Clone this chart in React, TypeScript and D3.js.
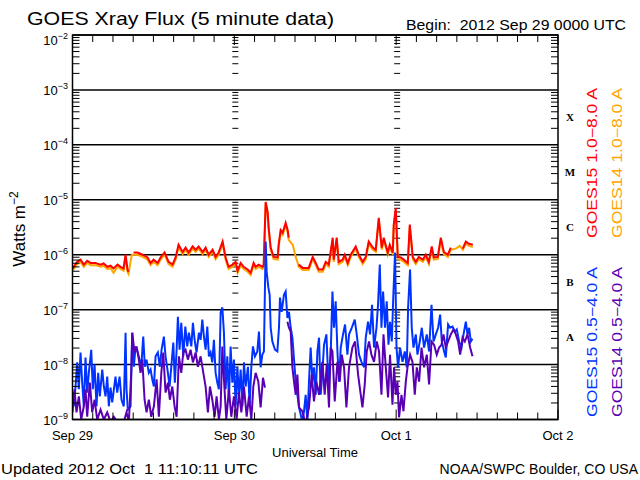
import React from 'react';
import * as d3 from 'd3';

const W = 640;
const H = 480;
const M = { left: 72.5, right: 558, top: 35, bottom: 419.5 };

const dayLabels = ['Sep 29', 'Sep 30', 'Oct 1', 'Oct 2'];
const yExponents = [-2, -3, -4, -5, -6, -7, -8, -9];
const flareClasses = ['X', 'M', 'C', 'B', 'A'];
const flareClassExp = [-4, -5, -6, -7, -8];

const titleText = 'GOES Xray Flux (5 minute data)';
const beginText = 'Begin:  2012 Sep 29 0000 UTC';
const updatedText = 'Updated 2012 Oct  1 11:10:11 UTC';
const creditText = 'NOAA/SWPC Boulder, CO USA';

// Long channel (1.0-8.0 A): hours since 2012 Sep 29 00:00 UTC, log10 flux (W m^-2)
const longHours = [
  0.0, 0.7, 1.19, 1.68, 2.18, 2.67, 3.41, 4.16, 4.6, 5.19, 5.64, 6.09, 6.68, 7.12, 7.57, 7.87, 8.16, 8.31, 8.6, 8.8,
  9.05, 9.65, 10.39, 11.13, 11.58, 12.02, 12.62, 13.06, 13.66, 14.25, 14.84, 15.29, 15.73, 16.33, 16.77, 17.22, 17.81,
  18.26, 18.7, 19.3, 19.74, 20.19, 20.78, 21.22, 21.67, 22.26, 22.71, 23.15, 23.75, 24.19, 24.49, 24.94, 25.38, 25.97,
  26.42, 26.86, 27.16, 27.61, 28.2, 28.35, 28.65, 28.94, 29.09, 29.39, 29.83, 30.43, 30.57, 30.87, 31.17, 31.61, 31.91,
  32.06, 32.66, 33.1, 33.4, 33.54, 34.14, 35.03, 35.62, 36.07, 36.51, 37.11, 37.55, 38.0, 38.59, 38.74, 39.18, 39.48,
  40.07, 40.37, 40.82, 41.26, 42.0, 42.45, 43.04, 43.49, 43.93, 44.53, 44.97, 45.42, 45.86, 46.16, 46.75, 47.05, 47.5,
  47.64, 47.94, 48.24, 48.68, 49.13, 49.72, 50.02, 50.46, 50.91, 51.35, 51.95, 52.39, 52.84, 53.28, 53.58, 54.17, 54.62,
  55.07, 55.66, 56.1, 56.84, 57.44, 57.88, 58.33, 58.78, 59.37,
];
const goes15Long = [
  -6.25, -6.13, -6.09, -6.18, -6.11, -6.15, -6.15, -6.18, -6.16, -6.22, -6.2, -6.25, -6.18, -6.22, -6.25, -6.0, -6.27, -6.31, null, null,
  -5.96, -5.96, -6.0, -6.05, -6.15, -6.09, -6.15, -6.05, -5.96, -6.13, -6.18, -6.05, -5.82, -5.95, -5.87, -5.96, -5.85,
  -5.91, -5.85, -5.95, -5.87, -6.0, -5.91, -6.04, -5.96, -5.76, -6.05, -6.22, -6.18, -6.13, -6.29, -6.15, -6.22, -6.27,
  -6.33, -6.15, -6.22, -6.18, -6.22, -6.18, -5.04, -5.22, -5.51, -5.87, -6.04, -6.05, -5.82, -5.55, -5.6, -5.42, -5.55,
  -5.69, null, null, null, -6.18, -6.24, -6.24, -6.04, -6.15, -6.27, -6.27, -6.13, -6.18, -5.69, -6.09, -5.69, -6.13,
  -6.09, -6.0, -6.15, -6.0, -5.85, -6.0, -6.13, -6.04, -5.76, -5.87, -5.91, -5.33, -5.87, -5.69, -5.96, -5.82, -5.96,
  -5.45, -5.15, -6.04, -6.05, -6.09, -6.15, -5.45, -6.04, -6.13, -6.04, -6.09, -6.0, -6.13, -5.85, -6.05, -6.04, -5.69,
  -5.95, -6.0, -5.87, null, null, -5.89, -5.76, -5.8, -5.82,
];
const goes14Long = [
  -6.29, -6.17, -6.13, -6.22, -6.15, -6.19, -6.19, -6.22, -6.2, -6.26, -6.24, -6.33, -6.22, -6.26, -6.29, -6.04, -6.31, -6.35, -6.13, -6.0,
  -6.0, -6.0, -6.04, -6.09, -6.19, -6.13, -6.19, -6.09, -6.0, -6.17, -6.22, -6.09, -5.86, -5.99, -5.91, -6.0, -5.89,
  -5.95, -5.89, -5.99, -5.91, -6.04, -5.95, -6.08, -6.0, -5.8, -6.09, -6.26, -6.22, -6.17, -6.33, -6.19, -6.26, -6.31,
  -6.37, -6.19, -6.26, -6.22, -6.26, -6.22, -5.06, -5.25, -5.54, -5.91, -6.08, -6.09, -5.86, -5.59, -5.64, -5.46, -5.59,
  -5.73, -5.82, -6.04, -6.15, -6.22, -6.28, -6.28, -6.08, -6.19, -6.31, -6.31, -6.17, -6.22, -5.73, -6.13, -5.73, -6.17,
  -6.13, -6.04, -6.19, -6.04, -5.89, -6.04, -6.17, -6.08, -5.8, -5.91, -5.95, -5.36, -5.91, -5.73, -6.0, -5.86, -6.0,
  -5.49, -5.2, -6.08, -6.09, -6.13, -6.19, -5.49, -6.08, -6.17, -6.08, -6.13, -6.04, -6.17, -5.89, -6.09, -6.08, -5.73,
  -5.99, -6.04, -5.91, -5.89, -5.84, -5.91, -5.8, -5.84, -5.86,
];

// Short channel (0.5-4.0 A), GOES-15
const short15Hours = [
  0.0, 0.19, 0.45, 0.7, 0.94, 1.19, 1.44, 1.68, 1.93, 2.18, 2.42, 2.78, 3.01, 3.27, 3.56, 3.81, 4.05, 4.41, 4.65, 4.9,
  5.15, 5.39, 5.64, 5.89, 6.38, 6.63, 6.98, 7.27, 7.61, 7.87, 8.01, 8.21, 8.61, 8.86, 9.1, 9.35, 9.69, 9.94, 10.2, 10.49,
  10.73, 10.98, 11.32, 11.58, 11.83, 12.07, 12.32, 12.66, 12.96, 13.21, 13.55, 13.8, 14.15, 14.4, 14.65, 14.95, 15.18,
  15.44, 15.63, 15.88, 16.13, 16.43, 16.73, 17.02, 17.26, 17.62, 17.86, 18.11, 18.4, 18.75, 19.0, 19.25, 19.49, 19.74,
  19.99, 20.23, 20.48, 20.73, 20.97, 21.22, 21.48, 21.71, 21.97, 22.22, 22.46, 22.71, 22.96, 23.2, 23.45, 23.7, 23.94,
  24.19, 24.45, 24.68, 24.94, 25.19, 25.43, 25.68, 26.02, 26.27, 26.52, 26.76, 27.06, 27.41, 27.65, 27.9, 28.15, 28.39,
  28.65, 28.79, 29.05, 29.24, 29.39, 29.64, 30.03, 30.38, 30.62, 30.77, 31.02, 31.36, 31.61, 31.87, 32.1, 32.36, 32.61,
  33.1, 33.59, 34.09, 34.33, 34.58, 34.83, 35.07, 35.32, 35.58, 35.81, 36.07, 36.32, 36.56, 36.81, 37.06, 37.3, 37.65,
  37.95, 38.29, 38.55, 38.78, 39.03, 39.29, 39.52, 39.78, 40.12, 40.42, 40.77, 41.01, 41.41, 41.86, 42.15, 42.49, 42.85,
  43.24, 43.49, 43.83, 44.13, 44.42, 44.72, 45.08, 45.31, 45.57, 45.82, 46.06, 46.35, 46.6, 46.86, 47.09, 47.35, 47.6,
  47.84, 48.05, 48.28, 48.58, 48.94, 49.28, 49.57, 49.77, 50.06, 50.31, 50.57, 50.91, 51.16, 51.5, 51.8, 52.14, 52.54,
  52.88, 53.24, 53.54, 53.88, 54.22, 54.52, 54.77, 55.11, 55.36, 55.7, 56.0, 56.36, 56.7, 56.99, 57.34, 57.69, 57.99,
  58.33, 58.58, 58.82, 59.07, 59.32,
];
const goes15Short = [
  -8.58, -8.76, -8.4, -7.96, -8.45, -7.78, -8.33, -8.76, -7.87, -8.51, -8.15, -7.73, -8.45, -8.0, -8.76, -8.15, -8.58, -8.09, -8.4, -8.58,
  -8.22, -8.76, -8.42, -8.69, -8.22, -8.51, -8.22, -8.64, -8.76, -7.42, -8.45, -8.82, -8.76, -7.42, -8.04, -7.67, -7.78, -7.91, -8.04, -7.49,
  -8.04, -7.91, -8.15, -8.09, -8.27, -8.4, -7.85, -7.78, -8.04, -7.73, -7.49, -7.85, -8.15, -8.4, -8.04, -7.6, -8.33,
  -7.73, -7.13, -7.73, -7.24, -7.85, -7.31, -7.67, -7.42, -7.67, -7.24, -7.55, -7.78, -7.42, -7.55, -7.18, -7.49, -7.73,
  -7.31, -7.85, -7.78, -7.96, -7.55, -8.15, -8.33, -8.45, -7.05, -6.96, -7.42, -8.45, -7.85, -8.64, -7.67, -8.33, -7.91,
  -8.76, -8.04, -8.58, -8.09, -8.76, -7.96, -8.4, -8.04, -8.76, -8.04, -7.67, -7.85, -7.76, -7.4, -8.05, -7.82, -7.76,
  -5.76, -6.31, -6.6, -6.73, -7.33, -7.58, -7.73, -7.76, -7.33, -6.78, -7.04, -6.73, -6.67, -7.15, -7.04, -7.33, -7.51,
  -8.31, -8.78, -9.04, -8.85, -8.55, -9.04, -8.31, -7.69, -8.31, -8.05, -8.55, -7.76, -7.51, -8.55, -8.13, -7.64, -7.45,
  -8.31, -7.82, -6.67, -7.33, -6.85, -7.76, -8.31, -7.69, -7.45, -7.27, -7.82, -7.45, -7.33, -7.18, -7.45, -7.82, -7.95,
  -8.05, -7.51, -7.22, -7.45, -6.91, -7.69, -7.33, -6.91, -6.18, -7.33, -6.67, -7.33, -6.85, -7.64, -7.22, -7.58, -6.67,
  -5.96, -7.69, -8.05, -7.69, -7.95, -7.76, -8.05, -6.96, -6.27, -7.33, -7.69, -7.45, -7.82, -7.58, -7.33, -7.69, -7.45,
  -7.76, -6.91, -7.58, -7.45, -7.33, -7.09, -7.58, -7.76, -7.87, -7.27, -7.33, -7.31, -7.4, -7.36, -7.58, -7.69, -7.45,
  -7.22, -7.45, -7.33, -7.58, -7.53,
];

// Short channel (0.5-4.0 A), GOES-14
const short14Hours = [
  0.0, 0.3, 0.59, 0.94, 1.29, 1.68, 1.93, 2.18, 2.57, 2.92, 3.27, 3.67, 4.16, 4.65, 5.15, 5.64, 6.13, 6.63, 7.61, 8.01,
  8.36, 8.71, 8.86, 9.2, 9.5, 9.84, 10.09, 10.35, 10.69, 10.98, 11.32, 11.68, 12.07, 12.47, 12.81, 13.17, 13.46, 13.8,
  14.15, 14.44, 14.8, 15.14, 15.44, 15.78, 16.13, 16.43, 16.77, 17.11, 17.51, 17.86, 18.26, 18.6, 19.0, 19.4, 19.74,
  20.08, 20.38, 20.73, 21.08, 21.37, 21.71, 21.97, 22.22, 22.46, 22.81, 23.2, 23.55, 23.94, 24.34, 24.68, 25.04, 25.43,
  25.83, 26.17, 26.52, 26.82, 27.16, 27.56, 27.9, 28.25, 28.54, 30.0, 31.87, 32.1, 32.36, 32.61, 32.85, 33.1, 33.35,
  33.59, 34.09, 34.58, 35.07, 35.47, 35.81, 36.17, 36.56, 37.06, 37.4, 37.7, 38.04, 38.29, 38.55, 38.89, 39.29, 39.63,
  39.93, 40.27, 40.62, 41.01, 41.51, 41.9, 42.35, 42.75, 43.0, 43.34, 43.64, 43.98, 44.33, 44.72, 45.12, 45.46, 45.82,
  46.12, 46.46, 46.8, 47.09, 47.45, 47.69, 47.94, 48.19, 48.43, 48.79, 49.08, 49.43, 49.68, 50.06, 50.42, 50.76, 51.06,
  51.4, 51.76, 52.14, 52.54, 52.88, 53.24, 53.62, 54.02, 54.37, 54.72, 55.02, 55.36, 55.7, 56.1, 56.5, 56.85, 57.19,
  57.49, 57.84, 58.18, 58.58, 58.97, 59.32,
];
const goes14Short = [
  -8.87, -8.45, -8.87, -8.58, -9.0, -8.76, -8.45, -8.95, -8.33, -8.87, -8.64, -9.0, -8.82, -9.0, -8.87, -9.04, -8.95, -9.04, -9.04, -8.87,
  -9.04, -8.15, -7.42, -7.78, -7.67, -7.91, -8.15, -7.91, -8.64, -8.87, -8.64, -8.95, -8.76, -8.27, -8.95, -8.15, -7.78, -8.51,
  -8.33, -8.64, -8.4, -8.76, -8.95, -7.85, -8.15, -7.78, -7.73, -7.91, -7.73, -7.96, -7.78, -8.04, -7.85, -8.15, -8.4,
  -8.87, -8.4, -8.64, -8.95, -8.58, -9.0, -8.76, -7.67, -8.27, -9.0, -8.45, -8.95, -8.58, -9.0, -8.51, -8.87, -8.4,
  -8.95, -8.58, -9.0, -8.4, -8.15, -8.31, -8.78, -8.24, -8.42, null, -7.22, -7.33, -7.4, -8.05, -8.31, -8.55, -8.18,
  -8.78, -8.85, -9.09, -8.78, -8.18, -8.67, -8.31, -8.55, -7.95, -8.55, -8.0, -8.78, -7.69, -7.76, -8.67, -7.95, -8.31,
  -7.82, -8.05, -8.78, -8.05, -7.69, -7.58, -8.18, -8.55, -8.78, -8.36, -7.76, -7.58, -7.82, -7.95, -7.58, -7.76, -8.55,
  -7.45, -8.05, -8.6, -7.82, -8.73, -8.05, -8.55, -8.31, -8.96, -8.55, -8.85, -8.31, -8.05, -7.82, -7.95, -8.55, -8.05,
  -8.31, -7.69, -8.05, -7.82, -8.36, -7.58, -7.64, -7.82, -7.69, -7.64, -7.45, -7.69, -7.58, -7.45, -7.36, -7.45, -7.58,
  -7.82, -7.51, -7.58, -7.45, -7.69, -7.85,
];

const legendItems = [
  { text: 'GOES15 1.0\u22128.0 A', color: '#ff0000', x: 597, y0: 238, y1: 88 },
  { text: 'GOES14 1.0\u22128.0 A', color: '#ffa500', x: 622, y0: 238, y1: 88 },
  { text: 'GOES15 0.5\u22124.0 A', color: '#0033ff', x: 597, y0: 417, y1: 267 },
  { text: 'GOES14 0.5\u22124.0 A', color: '#5a00b4', x: 622, y0: 417, y1: 267 },
];

const SANS = "'Liberation Sans', Arial, sans-serif";
const SERIF = "'Liberation Serif', 'DejaVu Serif', serif";

export default function App() {
  const x = d3.scaleLinear().domain([0, 72]).range([M.left, M.right]);
  const y = d3.scaleLog().domain([1e-9, 1e-2]).range([M.bottom, M.top]);

  const mk = (hours: number[], vals: (number | null)[]) => hours.map((h, i) => ({ h, v: vals[i] }));
  const line = d3
    .line<{ h: number; v: number | null }>()
    .defined((d) => d.v !== null && d.v !== undefined)
    .x((d) => x(d.h))
    .y((d) => y(Math.pow(10, d.v as number)));

  const minorVals: number[] = [];
  for (let e = -9; e <= -3; e++) for (let k = 2; k <= 9; k++) minorVals.push(k * Math.pow(10, e));

  const hourTicks = d3.range(0, 73, 3);
  const dayHours = [24, 48];

  return (
    <svg width={W} height={H} style={{ position: 'absolute', left: 0, top: 0, background: '#fff' }} fontFamily={SANS}>
      <rect x={0} y={0} width={W} height={H} fill="#fff" />
      <defs>
        <clipPath id="plotclip">
          <rect x={M.left} y={M.top} width={M.right - M.left} height={M.bottom - M.top} />
        </clipPath>
      </defs>

      {/* decade grid lines */}
      {yExponents.map((e) => (
        <line key={'g' + e} x1={M.left} x2={M.right} y1={y(Math.pow(10, e))} y2={y(Math.pow(10, e))} stroke="#000" strokeWidth={1.5} />
      ))}

      {/* day-boundary tick columns */}
      {dayHours.map((dh) =>
        minorVals.map((v, i) => (
          <line key={'dc' + dh + '-' + i} x1={x(dh) - 2} x2={x(dh) + 4} y1={y(v)} y2={y(v)} stroke="#000" strokeWidth={1} />
        ))
      )}

      {/* data */}
      <g clipPath="url(#plotclip)" fill="none" strokeWidth={2}>
        <path d={line(mk(longHours, goes14Long)) || ''} stroke="#ffa500" />
        <path d={line(mk(longHours, goes15Long)) || ''} stroke="#ff0000" />
        <path d={line(mk(short15Hours, goes15Short)) || ''} stroke="#0033ff" />
        <path d={line(mk(short14Hours, goes14Short)) || ''} stroke="#5a00b4" />
      </g>

      {/* frame */}
      <rect x={M.left} y={M.top} width={M.right - M.left} height={M.bottom - M.top} fill="none" stroke="#000" strokeWidth={1.5} />

      {/* y minor ticks left/right */}
      {minorVals.map((v, i) => (
        <g key={'ym' + i}>
          <line x1={M.left} x2={M.left + 7} y1={y(v)} y2={y(v)} stroke="#000" strokeWidth={1} />
          <line x1={M.right - 7} x2={M.right} y1={y(v)} y2={y(v)} stroke="#000" strokeWidth={1} />
        </g>
      ))}

      {/* x ticks */}
      {hourTicks.map((h) => {
        const len = h % 24 === 0 ? 10 : 7;
        return (
          <g key={'xt' + h}>
            <line x1={x(h)} x2={x(h)} y1={M.top} y2={M.top + len} stroke="#000" strokeWidth={1} />
            <line x1={x(h)} x2={x(h)} y1={M.bottom} y2={M.bottom - len} stroke="#000" strokeWidth={1} />
          </g>
        );
      })}

      {/* y labels */}
      {yExponents.map((e) => {
        const yy = y(Math.pow(10, e)) + (e === -2 ? 10 : 5);
        return (
          <text key={'yl' + e} x={68} y={yy} textAnchor="end" fontSize={13} fill="#000">
            10
            <tspan dy={-6} fontSize={9}>
              {'\u2212' + Math.abs(e)}
            </tspan>
          </text>
        );
      })}

      {/* flare classes */}
      {flareClasses.map((c, i) => {
        const e = flareClassExp[i];
        const yc = (y(Math.pow(10, e)) + y(Math.pow(10, e + 1))) / 2;
        return (
          <text key={'fc' + c} x={570} y={yc + 4} textAnchor="middle" fontSize={11} fontWeight="bold" fontFamily={SERIF} fill="#000">
            {c}
          </text>
        );
      })}

      {/* x labels */}
      {dayLabels.map((d, i) => (
        <text key={'xl' + d} x={x(i * 24)} y={440} textAnchor="middle" fontSize={13} fill="#000">
          {d}
        </text>
      ))}
      <text x={315} y={457} textAnchor="middle" fontSize={13} fill="#000">
        Universal Time
      </text>

      {/* title */}
      <text x={27} y={25} fontSize={19} fill="#000" textLength={307} lengthAdjust="spacingAndGlyphs">
        {titleText}
      </text>
      <text x={406} y={30} fontSize={14} fill="#000" textLength={220} lengthAdjust="spacingAndGlyphs" style={{ whiteSpace: 'pre' }}>
        {beginText}
      </text>

      {/* y axis title */}
      <text transform="translate(25,229) rotate(-90)" textAnchor="middle" fontSize={17} fill="#000">
        Watts m
        <tspan dy={-7} fontSize={12}>
          {'\u22122'}
        </tspan>
      </text>

      {/* legend */}
      {legendItems.map((it) => (
        <text
          key={it.text}
          transform={`translate(${it.x},${it.y0}) rotate(-90)`}
          fontSize={14}
          fill={it.color}
          textLength={it.y0 - it.y1}
          lengthAdjust="spacingAndGlyphs"
        >
          {it.text}
        </text>
      ))}

      {/* footer */}
      <text x={1} y={474} fontSize={14} fill="#000" textLength={257} lengthAdjust="spacingAndGlyphs" style={{ whiteSpace: 'pre' }}>
        {updatedText}
      </text>
      <text x={638} y={474} textAnchor="end" fontSize={14} fill="#000">
        {creditText}
      </text>
    </svg>
  );
}
